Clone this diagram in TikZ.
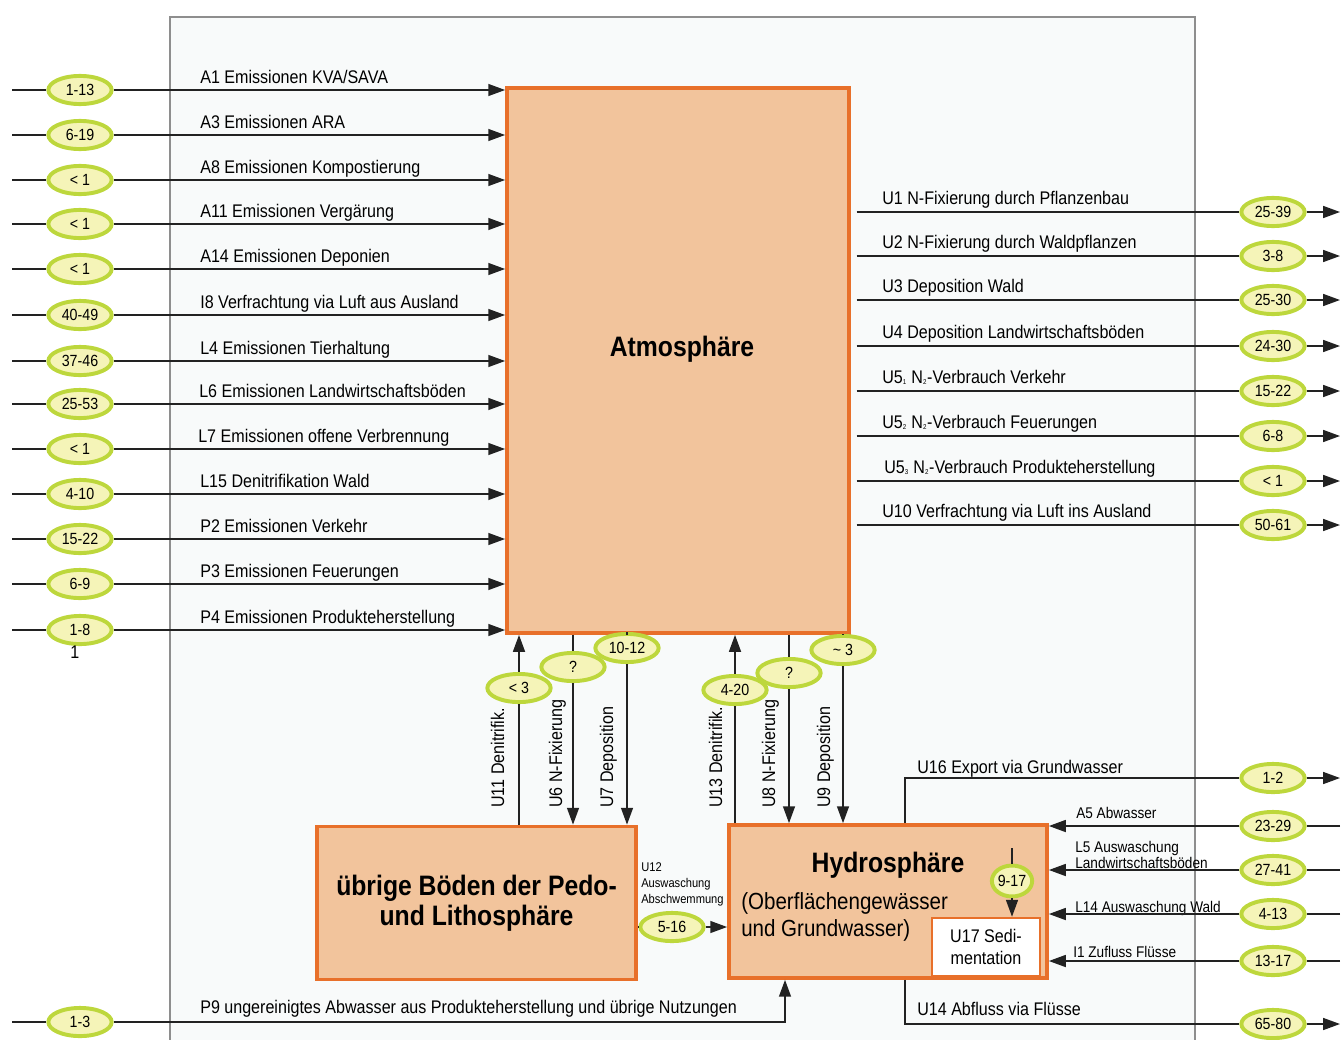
\documentclass[tikz,border=0pt]{standalone}
\usepackage{fontspec}
\setmainfont{Liberation Sans}[FakeStretch=0.88]
\usetikzlibrary{arrows.meta,shapes.geometric,calc}

\definecolor{sphfill}{HTML}{F2C49C}
\definecolor{sphdraw}{HTML}{E8702A}
\definecolor{valfill}{HTML}{F5F4B8}
\definecolor{valdraw}{HTML}{BDD73C}
\definecolor{framegray}{HTML}{8E8E8E}
\definecolor{framefill}{HTML}{F8FAFA}
\definecolor{flowcol}{HTML}{222222}

\tikzset{
  frame/.style={draw=framegray,fill=framefill,line width=1.8pt},
  sphere/.style={draw=sphdraw,fill=sphfill,line width=2.6pt,inner sep=0pt},
  bigtext/.style={font=\bfseries\fontsize{20}{21}\selectfont},
  val/.style={ellipse,draw=valdraw,fill=valfill,line width=2.8pt,minimum width=45pt,minimum height=20pt,inner sep=0pt,font=\fontsize{11.5}{13}\selectfont},
  line/.style={draw=flowcol,line width=1.1pt},
  flow/.style={line,-{Triangle[length=12pt,width=8.5pt]}},
  lab/.style={anchor=base west,inner sep=0pt,font=\fontsize{13}{15}\selectfont},
  vlab/.style={lab,rotate=90},
  smalllab/.style={anchor=base west,inner sep=0pt,font=\fontsize{11}{9.3}\selectfont},
  tinylab/.style={anchor=west,inner sep=0pt,align=left,font=\fontsize{9}{11.4}\selectfont}
}

\begin{document}
\begin{tikzpicture}[x=0.025cm,y=-0.025cm]
\useasboundingbox (0,0) rectangle (1341,1039);
\clip (0,0) rectangle (1341,1039);
\draw[frame] (170,17) rectangle (1195,1060);

% compartments
\node[sphere,minimum width=8.55cm,minimum height=13.625cm] (atm) at (678,360.5) {};
\node[bigtext] (atmlab) at (682,349) {Atmosphäre};
\node[sphere,bigtext,align=center,minimum width=7.975cm,minimum height=3.825cm] (boden) at (476.5,903) {übrige Böden der Pedo-\\und Lithosphäre};
\node[sphere,minimum width=7.95cm,minimum height=3.825cm] (hydro) at (888,901.5) {};
\node[bigtext] (hydrolab) at (888,865) {Hydrosphäre};
\node[anchor=west,inner sep=0pt,align=left,font=\fontsize{16.6}{19}\selectfont] (hydrosub) at (741,917) {(Oberflächengewässer\\und Grundwasser)};
\node[draw=sphdraw,fill=white,line width=1.8pt,minimum width=2.7cm,minimum height=1.45cm,align=center,font=\fontsize{13}{15.5}\selectfont] (sed) at (986,947) {U17 Sedi-\\mentation};

% inputs to the atmosphere
\coordinate (a1) at (12,90);
\coordinate (a3) at (12,135);
\coordinate (a8) at (12,180);
\coordinate (a11) at (12,224);
\coordinate (a14) at (12,269);
\coordinate (i8) at (12,315);
\coordinate (l4) at (12,361);
\coordinate (l6) at (12,404);
\coordinate (l7) at (12,449);
\coordinate (l15) at (12,494);
\coordinate (p2) at (12,539);
\coordinate (p3) at (12,584);
\coordinate (p4) at (12,630);
\node[val] (va1) at (80,90) {1-13};
\node[val] (va3) at (80,135) {6-19};
\node[val] (va8) at (80,180) {< 1};
\node[val] (va11) at (80,224) {< 1};
\node[val] (va14) at (80,269) {< 1};
\node[val] (vi8) at (80,315) {40-49};
\node[val] (vl4) at (80,361) {37-46};
\node[val] (vl6) at (80,404) {25-53};
\node[val] (vl7) at (80,449) {< 1};
\node[val] (vl15) at (80,494) {4-10};
\node[val] (vp2) at (80,539) {15-22};
\node[val] (vp3) at (80,584) {6-9};
\node[val] (vp4) at (80,630) {1-8};
\node[lab] (one) at (70,658) {1};
\node[lab] (la1) at (200,83) {A1 Emissionen KVA/SAVA};
\node[lab] (la3) at (200,128) {A3 Emissionen ARA};
\node[lab] (la8) at (200,173) {A8 Emissionen Kompostierung};
\node[lab] (la11) at (200,217) {A11 Emissionen Vergärung};
\node[lab] (la14) at (200,262) {A14 Emissionen Deponien};
\node[lab] (li8) at (200,308) {I8 Verfrachtung via Luft aus Ausland};
\node[lab] (ll4) at (200,354) {L4 Emissionen Tierhaltung};
\node[lab] (ll6) at (199,397) {L6 Emissionen Landwirtschaftsböden};
\node[lab] (ll7) at (198,442) {L7 Emissionen offene Verbrennung};
\node[lab] (ll15) at (200,487) {L15 Denitrifikation Wald};
\node[lab] (lp2) at (200,532) {P2 Emissionen Verkehr};
\node[lab] (lp3) at (200,577) {P3 Emissionen Feuerungen};
\node[lab] (lp4) at (200,623) {P4 Emissionen Produkteherstellung};
\draw[line] (a1) -- (va1);   \draw[flow] (va1) -- (va1 -| atm.west);
\draw[line] (a3) -- (va3);   \draw[flow] (va3) -- (va3 -| atm.west);
\draw[line] (a8) -- (va8);   \draw[flow] (va8) -- (va8 -| atm.west);
\draw[line] (a11) -- (va11); \draw[flow] (va11) -- (va11 -| atm.west);
\draw[line] (a14) -- (va14); \draw[flow] (va14) -- (va14 -| atm.west);
\draw[line] (i8) -- (vi8);   \draw[flow] (vi8) -- (vi8 -| atm.west);
\draw[line] (l4) -- (vl4);   \draw[flow] (vl4) -- (vl4 -| atm.west);
\draw[line] (l6) -- (vl6);   \draw[flow] (vl6) -- (vl6 -| atm.west);
\draw[line] (l7) -- (vl7);   \draw[flow] (vl7) -- (vl7 -| atm.west);
\draw[line] (l15) -- (vl15); \draw[flow] (vl15) -- (vl15 -| atm.west);
\draw[line] (p2) -- (vp2);   \draw[flow] (vp2) -- (vp2 -| atm.west);
\draw[line] (p3) -- (vp3);   \draw[flow] (vp3) -- (vp3 -| atm.west);
\draw[line] (p4) -- (vp4);   \draw[flow] (vp4) -- (vp4 -| atm.west);

% outputs of the atmosphere
\coordinate (u1) at (1340,212);
\coordinate (u2) at (1340,256);
\coordinate (u3) at (1340,300);
\coordinate (u4) at (1340,346);
\coordinate (u51) at (1340,391);
\coordinate (u52) at (1340,436);
\coordinate (u53) at (1340,481);
\coordinate (u10) at (1340,525);
\node[val] (vu1) at (1273,212) {25-39};
\node[val] (vu2) at (1273,256) {3-8};
\node[val] (vu3) at (1273,300) {25-30};
\node[val] (vu4) at (1273,346) {24-30};
\node[val] (vu51) at (1273,391) {15-22};
\node[val] (vu52) at (1273,436) {6-8};
\node[val] (vu53) at (1273,481) {< 1};
\node[val] (vu10) at (1273,525) {50-61};
\node[lab] (lu1) at (882,204) {U1 N-Fixierung durch Pflanzenbau};
\node[lab] (lu2) at (882,248) {U2 N-Fixierung durch Waldpflanzen};
\node[lab] (lu3) at (882,292) {U3 Deposition Wald};
\node[lab] (lu4) at (882,338) {U4 Deposition Landwirtschaftsböden};
\node[lab] (lu51) at (882,383) {U5{\fontsize{7}{8}\selectfont\textsubscript{1}} N{\fontsize{7}{8}\selectfont\textsubscript{2}}-Verbrauch Verkehr};
\node[lab] (lu52) at (882,428) {U5{\fontsize{7}{8}\selectfont\textsubscript{2}} N{\fontsize{7}{8}\selectfont\textsubscript{2}}-Verbrauch Feuerungen};
\node[lab] (lu53) at (884,473) {U5{\fontsize{7}{8}\selectfont\textsubscript{3}} N{\fontsize{7}{8}\selectfont\textsubscript{2}}-Verbrauch Produkteherstellung};
\node[lab] (lu10) at (882,517) {U10 Verfrachtung via Luft ins Ausland};
\draw[line,shorten <=4pt] (atm.east |- vu1) -- (vu1);   \draw[flow] (vu1) -- (u1);
\draw[line,shorten <=4pt] (atm.east |- vu2) -- (vu2);   \draw[flow] (vu2) -- (u2);
\draw[line,shorten <=4pt] (atm.east |- vu3) -- (vu3);   \draw[flow] (vu3) -- (u3);
\draw[line,shorten <=4pt] (atm.east |- vu4) -- (vu4);   \draw[flow] (vu4) -- (u4);
\draw[line,shorten <=4pt] (atm.east |- vu51) -- (vu51); \draw[flow] (vu51) -- (u51);
\draw[line,shorten <=4pt] (atm.east |- vu52) -- (vu52); \draw[flow] (vu52) -- (u52);
\draw[line,shorten <=4pt] (atm.east |- vu53) -- (vu53); \draw[flow] (vu53) -- (u53);
\draw[line,shorten <=4pt] (atm.east |- vu10) -- (vu10); \draw[flow] (vu10) -- (u10);

% exchange atmosphere - soils - hydrosphere
\node[val] (v11) at (519,688) {< 3};
\node[val] (v6) at (573,667) {?};
\node[val] (v7) at (627,648) {10-12};
\node[val] (v13) at (735,690) {4-20};
\node[val] (v8) at (789,673) {?};
\node[val] (v9) at (843,650) {\textasciitilde{} 3};
\node[vlab] (l11) at (504,808) {U11 Denitrifik.};
\node[vlab] (l6) at (562,808) {U6 N-Fixierung};
\node[vlab] (l7) at (613,808) {U7 Deposition};
\node[vlab] (l13) at (722,808) {U13 Denitrifik.};
\node[vlab] (l8) at (775,808) {U8 N-Fixierung};
\node[vlab] (l9) at (830,808) {U9 Deposition};
\draw[line] (boden.north -| v11) -- (v11); \draw[flow] (v11) -- (v11 |- atm.south);
\draw[line] (atm.south -| v6) -- (v6);     \draw[flow] (v6) -- (v6 |- boden.north);
\draw[line] (atm.south -| v7) -- (v7);     \draw[flow] (v7) -- (v7 |- boden.north);
\draw[line] (hydro.north -| v13) -- (v13); \draw[flow] (v13) -- (v13 |- atm.south);
\draw[line] (atm.south -| v8) -- (v8);     \draw[flow] (v8) -- (v8 |- hydro.north);
\draw[line] (atm.south -| v9) -- (v9);     \draw[flow] (v9) -- (v9 |- hydro.north);

% soils to hydrosphere
\node[val] (v12) at (672,927) {5-16};
\node[tinylab] (l12) at (641,884) {U12\\Auswaschung\\Abschwemmung};
\draw[line] (boden.east |- v12) -- (v12); \draw[flow] (v12) -- (v12 -| hydro.west);

% sedimentation
\coordinate (s17) at (1012,848);
\node[val,minimum width=27pt,minimum height=22pt] (v17) at (1012,881) {9-17};
\draw[line] (s17) -- (v17); \draw[flow] (v17) -- (v17 |- sed.north);

% hydrosphere in- and outputs
\coordinate (u16x) at (905,778);
\coordinate (u16) at (1340,778);
\node[val] (vu16) at (1273,778) {1-2};
\node[lab] (lu16) at (917,773) {U16 Export via Grundwasser};
\draw[line] (hydro.north -| u16x) |- (vu16); \draw[flow] (vu16) -- (u16);

\coordinate (a5) at (1340,826);
\coordinate (l5) at (1340,870);
\coordinate (l14) at (1340,914);
\coordinate (i1) at (1340,961);
\node[val] (va5) at (1273,826) {23-29};
\node[val] (vl5) at (1273,870) {27-41};
\node[val] (vl14) at (1273,914) {4-13};
\node[val] (vi1) at (1273,961) {13-17};
\node[smalllab] (la5) at (1076,818) {A5 Abwasser};
\node[smalllab,anchor=west,align=left] (ll5) at (1075,855) {L5 Auswaschung\\Landwirtschaftsböden};
\node[smalllab] (ll14) at (1075,912) {L14 Auswaschung Wald};
\node[smalllab] (li1) at (1073,957) {I1 Zufluss Flüsse};
\draw[line] (a5) -- (va5);   \draw[flow] (va5) -- (va5 -| hydro.east);
\draw[line] (l5) -- (vl5);   \draw[flow] (vl5) -- (vl5 -| hydro.east);
\draw[line] (l14) -- (vl14); \draw[flow] (vl14) -- (vl14 -| hydro.east);
\draw[line] (i1) -- (vi1);   \draw[flow] (vi1) -- (vi1 -| hydro.east);

\coordinate (u14x) at (905,1024);
\coordinate (u14) at (1340,1024);
\node[val] (vu14) at (1273,1024) {65-80};
\node[lab] (lu14) at (917,1015) {U14 Abfluss via Flüsse};
\draw[line] (hydro.south -| u14x) |- (vu14); \draw[flow] (vu14) -- (u14);

\coordinate (p9) at (12,1022);
\coordinate (p9x) at (785,1022);
\node[val] (vp9) at (80,1022) {1-3};
\node[lab] (lp9) at (200,1013) {P9 ungereinigtes Abwasser aus Produkteherstellung und übrige Nutzungen};
\draw[line] (p9) -- (vp9); \draw[flow] (vp9) -| (hydro.south -| p9x);
\end{tikzpicture}
\end{document}
